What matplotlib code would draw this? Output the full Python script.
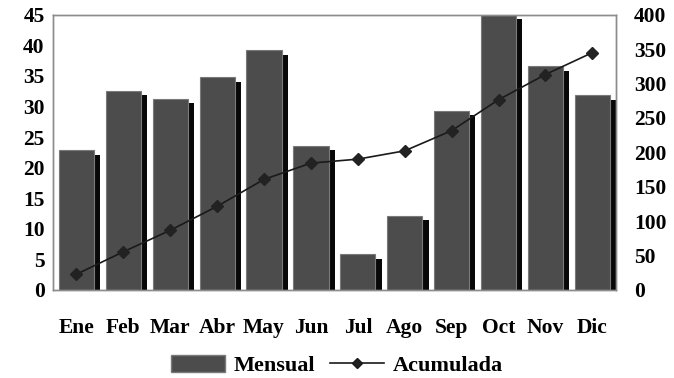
import matplotlib
matplotlib.use("Agg")
import matplotlib.pyplot as plt
import matplotlib.patheffects as pe
from matplotlib.patches import Patch
from matplotlib.lines import Line2D

meses = ["Ene", "Feb", "Mar", "Abr", "May", "Jun", "Jul", "Ago", "Sep", "Oct", "Nov", "Dic"]
mensual = [22.8, 32.6, 31.3, 34.8, 39.2, 23.6, 5.8, 12.1, 29.3, 45.0, 36.6, 31.8]
acumulada = [22.8, 55.4, 86.7, 121.5, 160.7, 184.3, 190.1, 202.2, 231.5, 276.5, 313.1, 344.9]

left_ticks = list(range(0, 50, 5))
right_ticks = list(range(0, 450, 50))

plt.rcParams["font.family"] = ["Liberation Serif", "DejaVu Serif"]
plt.rcParams["font.weight"] = "bold"

fig = plt.figure(figsize=(6.74, 3.78), dpi=100)
ax = fig.add_axes([0.0786, 0.233, 0.835, 0.728])
ax2 = ax.twinx()

x = range(len(meses))
shadow = [pe.SimplePatchShadow(offset=(4.5, -3.2), shadow_rgbFace="#080808", alpha=1.0),
          pe.Normal()]
bars = ax.bar(x, mensual, width=0.75, color="#4c4c4c", edgecolor="#7a7a7a",
              linewidth=0.8, zorder=2)
for b in bars:
    b.set_path_effects(shadow)

ax2.plot(x, acumulada, color="#1a1a1a", linewidth=1.2, marker="D",
         markersize=6, markerfacecolor="#222222", markeredgecolor="#222222", zorder=3)

ax.set_xlim(-0.5, len(meses) - 0.5)
ax.set_ylim(0, 45)
ax2.set_ylim(0, 400)
ax.set_yticks(left_ticks)
ax2.set_yticks(right_ticks)
ax.set_xticks(list(x))
ax.set_xticklabels(meses)

ax.tick_params(axis="both", length=0, labelsize=15.5, pad=6)
ax.tick_params(axis="x", pad=20)
ax2.tick_params(axis="y", length=0, labelsize=15.5, pad=13)
for lab in ax.get_xticklabels() + ax.get_yticklabels() + ax2.get_yticklabels():
    lab.set_fontweight("bold")

for a in (ax, ax2):
    for s in a.spines.values():
        s.set_color("#8c8c8c")
        s.set_linewidth(1.0)

handles = [Patch(facecolor="#4c4c4c", edgecolor="#7a7a7a"),
           Line2D([], [], color="#1a1a1a", linewidth=1.2, marker="D",
                  markersize=5, markerfacecolor="#222222")]
fig.legend(handles, ["Mensual", "Acumulada"], loc="lower center",
           bbox_to_anchor=(0.5, -0.048), ncol=2, frameon=False,
           prop={"family": "Liberation Serif", "weight": "bold", "size": 16},
           handlelength=2.4, handleheight=0.8, columnspacing=0.7, handletextpad=0.4)

fig.savefig("out.png", dpi=100)
